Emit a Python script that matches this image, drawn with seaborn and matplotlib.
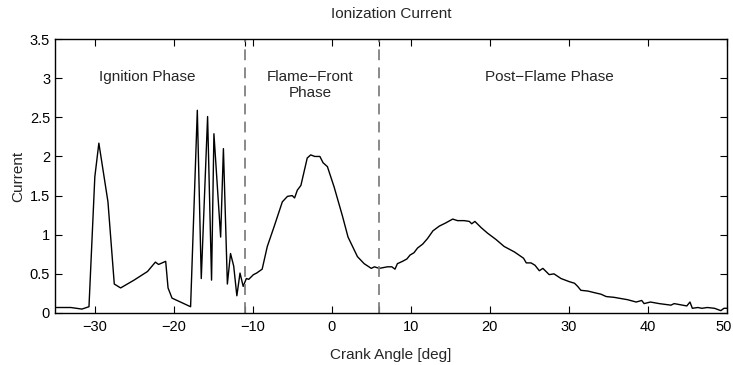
import matplotlib
matplotlib.use("Agg")
import matplotlib.pyplot as plt
import matplotlib.transforms as mtransforms
import seaborn as sns
import pandas as pd

crank_angle = [-35, -33, -31.6, -30.7, -29.96, -29.45, -28.3, -27.5, -26.7, -25.0,
               -23.3, -22.3, -21.9, -21.0, -20.7, -20.2, -17.85, -17.0, -16.5, -15.7,
               -15.2, -14.9, -14.05, -13.7, -13.2, -12.8, -12.4, -12.0, -11.6, -11.2,
               -10.8, -10.5, -9.9, -9.5, -8.8, -8.15, -7.3, -6.25, -5.6, -5.0,
               -4.7, -4.35, -3.9, -3.1, -2.66, -2.15, -1.5, -1.1, -0.55, 0.3,
               1.35, 2.06, 3.25, 4.1, 5.0, 5.4,
               6.0, 7.05, 7.6, 8.0, 8.3, 8.95, 9.5, 9.9, 10.4, 10.85,
               11.5, 12.1, 12.8, 13.6, 14.4, 15.3, 15.9, 16.75, 17.4, 17.7,
               18.1, 18.9, 19.7, 20.76, 21.8, 23.1, 24.25, 24.6, 25.2, 25.7,
               26.25, 26.7, 27.5, 28.1, 29.0, 30.05, 30.7, 31.1, 31.5, 32.4,
               33.2, 34.05, 34.7, 35.7, 37.4, 38.5, 39.2, 39.5, 40.3, 41.4,
               42.9, 43.3, 44.9, 45.3, 45.6, 46.3, 46.8, 47.5, 48.4, 49.2,
               49.6, 50]
current = [0.07, 0.07, 0.05, 0.08, 1.74, 2.17, 1.42, 0.37, 0.32, 0.42,
           0.53, 0.65, 0.62, 0.66, 0.32, 0.19, 0.08, 2.59, 0.44, 2.51,
           0.42, 2.29, 0.97, 2.10, 0.37, 0.76, 0.60, 0.22, 0.51, 0.34,
           0.44, 0.43, 0.49, 0.51, 0.56, 0.85, 1.10, 1.42, 1.49, 1.50,
           1.47, 1.57, 1.63, 1.98, 2.02, 2.00, 2.00, 1.92, 1.87, 1.61,
           1.24, 0.97, 0.72, 0.63, 0.57, 0.59,
           0.57, 0.59, 0.59, 0.56, 0.63, 0.66, 0.69, 0.74, 0.77, 0.83,
           0.88, 0.95, 1.05, 1.11, 1.15, 1.20, 1.18, 1.18, 1.17, 1.14,
           1.17, 1.09, 1.02, 0.94, 0.85, 0.78, 0.70, 0.64, 0.64, 0.61,
           0.54, 0.57, 0.49, 0.50, 0.44, 0.40, 0.38, 0.34, 0.29, 0.28,
           0.26, 0.24, 0.21, 0.20, 0.17, 0.14, 0.16, 0.12, 0.14, 0.12,
           0.10, 0.12, 0.09, 0.14, 0.06, 0.07, 0.06, 0.07, 0.06, 0.03,
           0.06, 0.06]

phase_bounds = [-11, 6]
phase_labels = ["Ignition Phase", "Flame\u2212Front\nPhase", "Post\u2212Flame Phase"]
phase_label_x = [-23.3, -2.7, 27.5]
x_ticks = [-30, -20, -10, 0, 10, 20, 30, 40, 50]
y_ticks = [0, 0.5, 1, 1.5, 2, 2.5, 3, 3.5]
y_tick_labels = ["0", "0.5", "1", "1.5", "2", "2.5", "3", "3.5"]

sns.set_style("ticks")
plt.rcParams["font.family"] = ["Liberation Sans", "DejaVu Sans"]
plt.rcParams["xtick.direction"] = "in"
plt.rcParams["ytick.direction"] = "in"

df = pd.DataFrame({"angle": crank_angle, "current": current})

fig = plt.figure(figsize=(7.33, 3.65), dpi=100)
ax = fig.add_axes([0.075, 0.1425, 0.917, 0.7505])

sns.lineplot(data=df, x="angle", y="current", ax=ax, color="black", linewidth=1.0,
             sort=False, estimator=None)

for b in phase_bounds:
    ax.axvline(b, color="#808080", linestyle=(0, (6, 4)), linewidth=1.3)

ax.set_xlim(-35, 50)
ax.set_ylim(0, 3.5)
ax.set_xticks(x_ticks)
ax.set_xticklabels([str(t).replace("-", "\u2212") for t in x_ticks])
ax.set_xticks(phase_bounds, minor=True)
ax.set_yticks(y_ticks)
ax.set_yticklabels(y_tick_labels)
ax.tick_params(axis="both", which="both", direction="in", top=True, right=True,
               length=5, width=0.8, labelsize=10.5, colors="black")
ax.tick_params(axis="x", pad=5)
for s in ax.spines.values():
    s.set_visible(True)
    s.set_linewidth(1.0)
    s.set_color("black")

# nudge the last x label so it stays inside the canvas
last = ax.get_xticklabels()[-1]
last.set_transform(last.get_transform() + mtransforms.ScaledTranslation(-3 / 100, 0, fig.dpi_scale_trans))

for lx, lab in zip(phase_label_x, phase_labels):
    ax.text(lx, 3.11, lab, ha="center", va="top", fontsize=11, linespacing=1.25)

ax.set_xlabel("Crank Angle [deg]", fontsize=11, labelpad=10)
ax.set_ylabel("Current", fontsize=11, labelpad=3)
ax.set_title("Ionization Current", fontsize=11, pad=15)

fig.savefig("out.png", dpi=100)
